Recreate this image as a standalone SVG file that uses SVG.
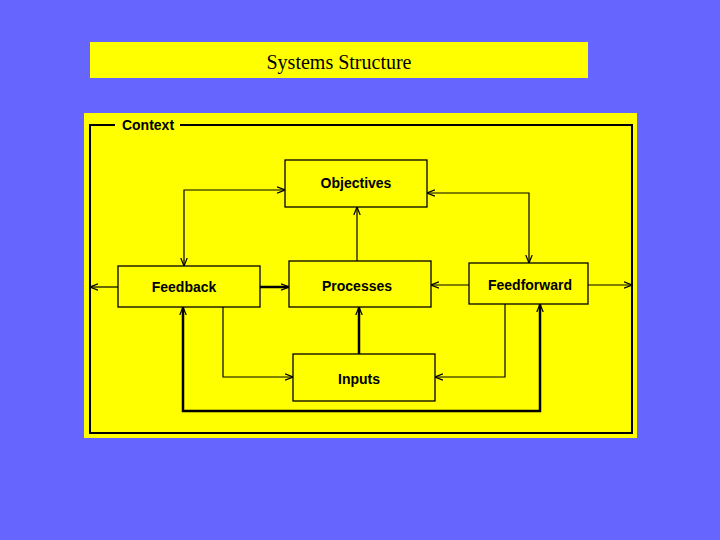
<svg xmlns="http://www.w3.org/2000/svg" width="720" height="540" viewBox="0 0 720 540">
<defs>
<style>
.box{fill:#ffff00;stroke:#000;stroke-width:1.3}
.lbl{font-family:"Liberation Sans",Arial,sans-serif;font-size:14px;font-weight:bold;text-anchor:middle;fill:#000}
.c{fill:none;stroke:#000;stroke-width:1.2}
.t{fill:none;stroke:#000;stroke-width:2.5}
</style>
<marker id="a" viewBox="0 0 10 10" refX="10" refY="5" markerWidth="8" markerHeight="8" orient="auto-start-reverse" markerUnits="userSpaceOnUse">
<path d="M0,1 L10,5 L0,9" fill="none" stroke="#000" stroke-width="1.5"/>
</marker>
</defs>
<rect width="720" height="540" fill="#6666ff"/>
<g id="title">
<rect x="90" y="42" width="498" height="36" fill="#ffff00"/>
<text x="339" y="69" font-family="Liberation Serif,Times New Roman,serif" font-size="20" text-anchor="middle">Systems Structure</text>
</g>
<g id="context">
<rect x="84" y="113" width="553" height="325" fill="#ffff00"/>
<path d="M115,125 H90 V433 H632 V125 H180" fill="none" stroke="#000" stroke-width="2"/>
<text x="148" y="130" class="lbl">Context</text>
</g>
<g id="connectors">
<path class="c" d="M184,266 V190 H285" marker-start="url(#a)" marker-end="url(#a)"/>
<path class="c" d="M357,261 V207" marker-end="url(#a)"/>
<path class="t" d="M260,287 H289" marker-end="url(#a)"/>
<path class="c" d="M118,287 H90" marker-end="url(#a)"/>
<path class="c" d="M223,307 V377 H293" marker-end="url(#a)"/>
<path class="t" d="M359,354 V307" marker-end="url(#a)"/>
<path class="c" d="M469,285 H431" marker-end="url(#a)"/>
<path class="c" d="M588,285 H632" marker-end="url(#a)"/>
<path class="c" d="M427,193 H529 V263" marker-start="url(#a)" marker-end="url(#a)"/>
<path class="c" d="M505,304 V377 H435" marker-end="url(#a)"/>
<path class="t" d="M540,304 V411 H183 V307" marker-start="url(#a)" marker-end="url(#a)"/>
</g>
<g id="objectives"><rect class="box" x="285" y="160" width="142" height="47"/><text class="lbl" x="356" y="188">Objectives</text></g>
<g id="feedback"><rect class="box" x="118" y="266" width="142" height="41"/><text class="lbl" x="184" y="292">Feedback</text></g>
<g id="processes"><rect class="box" x="289" y="261" width="142" height="46"/><text class="lbl" x="357" y="291">Processes</text></g>
<g id="feedforward"><rect class="box" x="469" y="263" width="119" height="41"/><text class="lbl" x="530" y="290">Feedforward</text></g>
<g id="inputs"><rect class="box" x="293" y="354" width="142" height="47"/><text class="lbl" x="359" y="384">Inputs</text></g>
</svg>
